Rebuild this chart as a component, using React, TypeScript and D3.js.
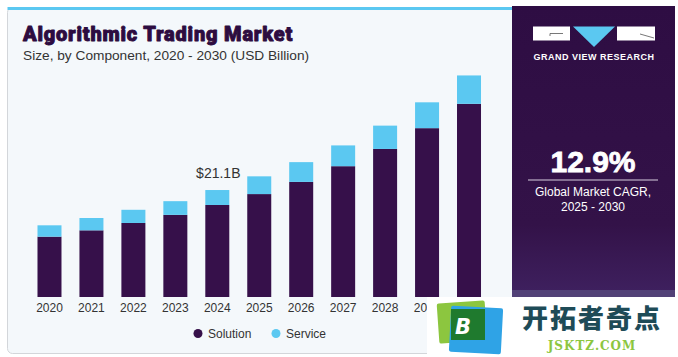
import React from "react";
import * as d3 from "d3";

const years = ["2020","2021","2022","2023","2024","2025","2026","2027","2028","2029","2030"];
const solution = [11.9, 13.15, 14.6, 16.2, 18.15, 20.3, 22.7, 25.8, 29.2, 33.3, 38.1];
const service = [2.24, 2.43, 2.6, 2.7, 2.95, 3.5, 3.9, 4.1, 4.6, 5.1, 5.6];
const seriesNames = ["Solution", "Service"];
const seriesColors = ["#36104a", "#5bc8f1"];
const annotationYear = "2024";
const annotationText = "$21.1B";

const W = 678, H = 357;

export default function App() {
  const x = d3.scaleBand<string>().domain(years).range([27, 491.5]).paddingInner(0.428).paddingOuter(0.25);
  const y = d3.scaleLinear().domain([0, 45]).range([297, 297 - 45 * 5.07]);
  const rows = years.map((yr, i) => ({ year: yr, Solution: solution[i], Service: service[i] }));
  const stacked = d3.stack<any>().keys(seriesNames)(rows);
  const annIdx = years.indexOf(annotationYear);
  const annTop = y(solution[annIdx] + service[annIdx]);
  const font = "'Liberation Sans', Arial, sans-serif";

  return (
    <svg width={W} height={H} style={{ position: "absolute", left: 0, top: 0 }}>
      <defs>
        <linearGradient id="pg" x1="0" y1="0" x2="0" y2="1">
          <stop offset="0" stopColor="#2e0d43" />
          <stop offset="0.75" stopColor="#331248" />
          <stop offset="1" stopColor="#3f2160" />
        </linearGradient>
      </defs>
      <rect x={0} y={0} width={W} height={H} fill="#ffffff" />
      {/* card */}
      <rect x={7.5} y={7.5} width={W - 12} height={346} rx={5} fill="#f4f8fb" stroke="#d3d6da" />
      <rect x={7.5} y={7} width={505} height={3} fill="#5bc8f1" />
      {/* right panel */}
      <rect x={512} y={6} width={163} height={291} fill="url(#pg)" />
      <rect x={512} y={290} width={163} height={7} fill="#574a7d" opacity={0.8} />
      {/* logo */}
      <rect x={533} y={26.5} width={37} height={14} fill="#ffffff" />
      <path d="M550,33.5 L563,33.5 M550,33.5 L550,36" stroke="#555" strokeWidth={0.8} fill="none" />
      <path d="M573,26.5 L615,26.5 L594,47 Z" fill="#5bc8f1" />
      <rect x={617} y={26.5} width={38} height={14} fill="#ffffff" />
      <path d="M640,34 L654,38" stroke="#555" strokeWidth={0.8} />
      <text x={594} y={59.5} textAnchor="middle" fill="#ffffff" fontFamily={font} fontWeight={700} fontSize={9} letterSpacing={0.5}>GRAND VIEW RESEARCH</text>
      {/* CAGR */}
      <text x={593} y={171.5} textAnchor="middle" fill="#ffffff" stroke="#ffffff" strokeWidth={0.8} fontFamily={font} fontWeight={700} fontSize={30}>12.9%</text>
      <line x1={528} x2={658} y1={180} y2={180} stroke="#d8d0e0" strokeWidth={1} />
      <text x={593} y={196} textAnchor="middle" fill="#ffffff" fontFamily={font} fontSize={12}>Global Market CAGR,</text>
      <text x={593} y={210.5} textAnchor="middle" fill="#ffffff" fontFamily={font} fontSize={12}>2025 - 2030</text>
      {/* titles */}
      <text x={23} y={41} fill="#2d0c40" stroke="#2d0c40" strokeWidth={0.9} strokeLinejoin="round" fontFamily="Roboto, 'DejaVu Sans', sans-serif" fontWeight={900} fontSize={20} letterSpacing={0.8}>Algorithmic Trading Market</text>
      <text x={23} y={59.5} fill="#333" fontFamily={font} fontSize={13.7}>Size, by Component, 2020 - 2030 (USD Billion)</text>
      {/* bars */}
      {stacked.map((s, si) => (
        <g key={s.key} fill={seriesColors[si]}>
          {s.map((d, i) => (
            <rect key={i} x={x(years[i])} width={x.bandwidth()} y={y(d[1])} height={y(d[0]) - y(d[1])} />
          ))}
        </g>
      ))}
      <text x={(x(annotationYear) as number) + x.bandwidth() / 2 + 1} y={annTop - 12} textAnchor="middle" fill="#333" fontFamily={font} fontSize={14}>{annotationText}</text>
      {/* x labels */}
      {years.map((yr) => (
        <text key={yr} x={(x(yr) as number) + x.bandwidth() / 2} y={311.5} textAnchor="middle" fill="#333" fontFamily={font} fontSize={12}>{yr}</text>
      ))}
      {/* legend */}
      <circle cx={198} cy={333.5} r={4.5} fill={seriesColors[0]} />
      <text x={208} y={337.5} fill="#333" fontFamily={font} fontSize={12}>{seriesNames[0]}</text>
      <circle cx={276} cy={333.5} r={4.5} fill={seriesColors[1]} />
      <text x={286} y={337.5} fill="#333" fontFamily={font} fontSize={12}>{seriesNames[1]}</text>
      {/* watermark */}
      <rect x={427} y={297} width={251} height={60} fill="#ffffff" />
      <g transform="rotate(-4 462 322)">
        <rect x={438} y={302} width={48} height={40} rx={2} fill="#8cc63f" />
      </g>
      <g transform="rotate(3 476 330)">
        <rect x={450} y={307} width={52} height={46} rx={2} fill="#2fa3e6" />
      </g>
      <rect x={451} y={309} width={34} height={31} fill="#1f7a2e" />
      <text x={463} y={334} textAnchor="middle" fill="#ffffff" fontFamily="'DejaVu Sans', sans-serif" fontWeight={900} fontStyle="italic" fontSize={21}>B</text>
      <text x={592} y={328} textAnchor="middle" fill="#1e4b57" fontFamily="'Noto Sans CJK SC', sans-serif" fontWeight={900} fontSize={26} letterSpacing={2}>开拓者奇点</text>
      <text x={592} y={350} textAnchor="middle" fill="#8cc63f" fontFamily="'DejaVu Serif', serif" fontWeight={700} fontSize={12} letterSpacing={1}>JSKTZ.COM</text>
    </svg>
  );
}
